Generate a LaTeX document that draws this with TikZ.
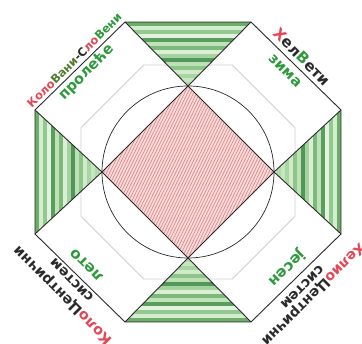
\documentclass[tikz,border=0pt]{standalone}
\usepackage{fontspec}
\setmainfont{DejaVu Sans}
\definecolor{redt}{HTML}{E44856}
\definecolor{greent}{HTML}{2E9A3C}
\definecolor{olivet}{HTML}{4F7F2F}
\definecolor{edgec}{HTML}{2B2B2B}
\definecolor{faint}{HTML}{D0D0D0}
\definecolor{pinkfill}{HTML}{F8DADA}
\definecolor{pinkline}{HTML}{DC8E8E}
\definecolor{ga}{HTML}{6CAD69}
\definecolor{gb}{HTML}{D5EDCF}
\definecolor{gc}{HTML}{92C98E}
\definecolor{gd}{HTML}{E4F3E0}
\definecolor{ge}{HTML}{5A9E5B}
\definecolor{gf}{HTML}{C0E2B9}
\definecolor{gg}{HTML}{7DB97A}
\definecolor{gh}{HTML}{DAEFD5}
\definecolor{gi}{HTML}{A5D3A0}
\definecolor{gj}{HTML}{52975A}
\definecolor{gk}{HTML}{BEE0B7}
\definecolor{gl}{HTML}{8EC58B}
\definecolor{gm}{HTML}{D0EACA}
\definecolor{gn}{HTML}{A9D5A4}
\definecolor{go}{HTML}{C6E6C0}
\definecolor{gp}{HTML}{B1DAAB}
\definecolor{gq}{HTML}{CCE8C6}
\begin{document}
\begin{tikzpicture}[x=1pt,y=1pt,
  outline/.style={draw=edgec,line width=0.9pt,line join=miter},
  thin/.style={draw=edgec,line width=0.7pt},
  lbl/.style={inner sep=0pt,font=\bfseries\fontsize{#1}{#1}\selectfont},
  lbl/.default=14]
\useasboundingbox (0,0) rectangle (362,344);
\clip (0,0) rectangle (362,344);
\fill[white] (0,0) rectangle (362,344);
% key points
\coordinate (O) at (188,172);
\coordinate (A) at (125,322);
\coordinate (B) at (251,322);
\coordinate (C) at (341,234);
\coordinate (D) at (341,110);
\coordinate (E) at (251,22);
\coordinate (F) at (125,22);
\coordinate (G) at (35,110);
\coordinate (H) at (35,234);
\coordinate (T) at (188,258);
\coordinate (L) at (102,172);
\coordinate (Bt) at (188,86);
\coordinate (R) at (274,172);
% faint inner octagon
\draw[faint,line width=0.8pt,shift={(188,172)}]
  (22.5:115.8) -- (67.5:115.8) -- (112.5:115.8) -- (157.5:115.8) --
  (202.5:115.8) -- (247.5:115.8) -- (292.5:115.8) -- (337.5:115.8) -- cycle;
% green striped triangles
\def\glist{ga,gb,gc,gd,ge,gf,gg,gh,gi,gj,gk,gl,gm,gn,go,gp,gq}
\begin{scope}
  \clip (A) -- (B) -- (T) -- cycle;
  \foreach \c [count=\i from 0] in \glist
    \fill[\c] (100,322-\i*4) rectangle (280,322-\i*4-4.3);
\end{scope}
\begin{scope}
  \clip (F) -- (E) -- (Bt) -- cycle;
  \foreach \c [count=\i from 0] in \glist
    \fill[\c] (100,22+\i*4) rectangle (280,22+\i*4+4.3);
\end{scope}
\begin{scope}
  \clip (G) -- (H) -- (L) -- cycle;
  \foreach \c [count=\i from 0] in \glist
    \fill[\c] (35+\i*4,100) rectangle (35+\i*4+4.3,244);
\end{scope}
\begin{scope}
  \clip (C) -- (D) -- (R) -- cycle;
  \foreach \c [count=\i from 0] in \glist
    \fill[\c] (341-\i*4,100) rectangle (341-\i*4-4.3,244);
\end{scope}
\draw[outline] (A) -- (T) -- (B);
\draw[outline] (C) -- (R) -- (D);
\draw[outline] (E) -- (Bt) -- (F);
\draw[outline] (G) -- (L) -- (H);
% pink diamond
\fill[pinkfill] (T) -- (R) -- (Bt) -- (L) -- cycle;
\begin{scope}
  \clip (T) -- (R) -- (Bt) -- (L) -- cycle;
  \foreach \k in {-50,...,50}
    \draw[pinkline,line width=0.7pt] (188+\k*3-45,80) -- (188+\k*3+45,264);
\end{scope}
\draw[outline] (T) -- (R) -- (Bt) -- (L) -- cycle;
% circle
\draw[thin] (O) circle[radius=86];
% outer octagon
\draw[outline] (A) -- (B) -- (C) -- (D) -- (E) -- (F) -- (G) -- (H) -- cycle;
% labels upper left
\node[lbl=11.5,rotate=45] (ulo) at (74.3,283.7)
  {{\color{redt}Коло}{\color{olivet}Вани}{\color{edgec}-С}{\color{redt}ло}{\color{greent}Вени}};
\node[lbl=14.5,rotate=45,text=greent] (uli) at (86.4,271.6) {пролеће};
% labels upper right
\node[lbl=15,rotate=-45] (uro) at (302,287)
  {{\color{redt}Х}{\color{edgec}ел}{\color{greent}В}{\color{edgec}ети}};
\node[lbl=14.5,rotate=-45,text=greent] (uri) at (285,273) {зима};
% labels lower left
\node[lbl=14.3,rotate=135] (llo) at (63,49)
  {{\color{redt}Коло}{\color{edgec}Центрични}};
\node[lbl=14,rotate=135,text=edgec] (llm) at (72,64) {систем};
\node[lbl=15,rotate=135,text=greent] (lli) at (87,79) {лето};
% labels lower right
\node[lbl=14,rotate=-135] (lro) at (313,50)
  {{\color{redt}Хелио}{\color{edgec}Центрични}};
\node[lbl=14,rotate=-135,text=edgec] (lrm) at (302,57) {систем};
\node[lbl=15,rotate=-135,text=greent] (lri) at (287,76) {јесен};
\end{tikzpicture}
\end{document}
